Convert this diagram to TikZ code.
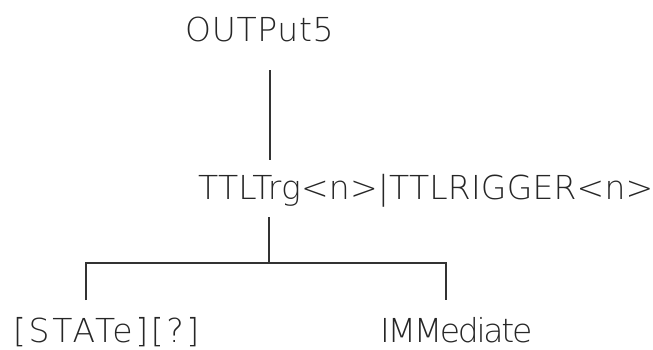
\documentclass[tikz,border=0pt]{standalone}
\usepackage{fontspec}
\newfontfamily\plotfont{DejaVu Sans ExtraLight}
\newcommand\spaced[1]{\addfontfeature{LetterSpace=#1}}
\begin{document}
\begin{tikzpicture}[x=1pt,y=-1pt,
  cmd/.style={inner sep=0pt, anchor=base west, text=black!85,
    font=\plotfont\fontsize{33}{33}\selectfont},
  wire/.style={line width=1.1pt, draw=black!80}]
\useasboundingbox (0,0) rectangle (653,349);
% command keywords
\node[cmd] (out)   at (185,41)  {\spaced{2}OUTPut5};
\node[cmd] (ttl)   at (198,199) {\spaced{0.6}TTLTrg<n>|TTLRIGGER<n>};
\node[cmd] (state) at (13,342)  {\spaced{8}[STATe][?]};
\node[cmd] (imm)   at (380,342) {\spaced{-7}IMMediate};
% junction points of the syntax tree
\coordinate (t1) at (270,70);
\coordinate (b1) at (270,160);
\coordinate (t2) at (269,217);
\coordinate (j)  at (269,263);
\coordinate (jl) at (86,263);
\coordinate (jr) at (446,263);
\coordinate (el) at (86,300);
\coordinate (er) at (446,300);
% connectors
\draw[wire] (t1) -- (b1);
\draw[wire] (t2) -- (j);
\draw[wire] (el) -- (jl) -- (jr) -- (er);
\end{tikzpicture}
\end{document}
